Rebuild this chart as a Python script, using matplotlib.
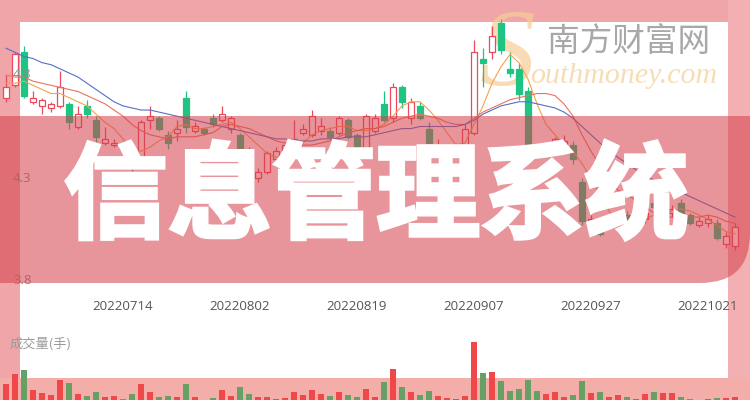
import matplotlib
matplotlib.use("Agg")
import matplotlib.pyplot as plt
import matplotlib.patheffects as pe
from matplotlib.patches import Rectangle, PathPatch
from matplotlib.path import Path
import numpy as np

# daily candles (open, high, low, close)
opens = [4.69, 4.75, 4.91, 4.67, 4.65, 4.64, 4.65, 4.66, 4.55, 4.65,
         4.58, 4.47, 4.46, 4.47, 4.32, 4.40, 4.58, 4.59, 4.51, 4.52,
         4.69, 4.53, 4.54, 4.59, 4.58, 4.54, 4.51, 4.43, 4.30, 4.33,
         4.39, 4.43, 4.44, 4.52, 4.51, 4.53, 4.53, 4.52, 4.58, 4.51,
         4.43, 4.53, 4.66, 4.59, 4.74, 4.59, 4.65, 4.54, 4.44, 4.42,
         4.44, 4.45, 4.52, 4.88, 4.91, 5.05, 4.83, 4.83, 4.72, 4.44,
         4.43, 4.44, 4.45, 4.46, 4.28, 4.07, 4.06, 4.08, 4.08, 4.12,
         4.09, 4.10, 4.18, 4.12, 4.13, 4.18, 4.12, 4.07, 4.08, 4.08,
         3.98, 3.97]
highs = [4.80, 4.91, 4.94, 4.72, 4.69, 4.67, 4.82, 4.67, 4.65, 4.68,
         4.60, 4.55, 4.49, 4.48, 4.35, 4.58, 4.65, 4.60, 4.53, 4.58,
         4.72, 4.57, 4.55, 4.61, 4.65, 4.60, 4.52, 4.45, 4.35, 4.43,
         4.45, 4.47, 4.58, 4.56, 4.63, 4.59, 4.55, 4.60, 4.59, 4.52,
         4.61, 4.61, 4.72, 4.76, 4.75, 4.69, 4.67, 4.57, 4.49, 4.45,
         4.47, 4.56, 4.97, 4.93, 5.04, 5.07, 4.91, 4.86, 4.74, 4.46,
         4.47, 4.50, 4.51, 4.48, 4.30, 4.12, 4.08, 4.11, 4.12, 4.14,
         4.15, 4.15, 4.20, 4.17, 4.17, 4.20, 4.13, 4.11, 4.12, 4.10,
         4.04, 4.08]
lows = [4.67, 4.74, 4.69, 4.66, 4.61, 4.62, 4.64, 4.54, 4.54, 4.59,
        4.47, 4.46, 4.45, 4.43, 4.29, 4.39, 4.54, 4.53, 4.44, 4.48,
        4.52, 4.52, 4.51, 4.55, 4.57, 4.52, 4.41, 4.35, 4.28, 4.32,
        4.38, 4.42, 4.43, 4.51, 4.50, 4.51, 4.49, 4.51, 4.49, 4.43,
        4.42, 4.52, 4.57, 4.57, 4.64, 4.56, 4.58, 4.45, 4.43, 4.41,
        4.43, 4.43, 4.51, 4.74, 4.88, 4.90, 4.79, 4.68, 4.43, 4.41,
        4.42, 4.43, 4.44, 4.37, 4.07, 4.06, 4.02, 4.06, 4.07, 4.08,
        4.08, 4.08, 4.14, 4.11, 4.11, 4.12, 4.07, 4.06, 4.06, 4.00,
        3.96, 3.95]
closes = [4.74, 4.90, 4.70, 4.69, 4.68, 4.66, 4.74, 4.57, 4.61, 4.61,
          4.50, 4.49, 4.47, 4.44, 4.30, 4.57, 4.60, 4.54, 4.47, 4.54,
          4.55, 4.55, 4.52, 4.56, 4.61, 4.59, 4.42, 4.36, 4.33, 4.42,
          4.43, 4.46, 4.49, 4.54, 4.60, 4.55, 4.50, 4.59, 4.50, 4.45,
          4.60, 4.59, 4.58, 4.74, 4.67, 4.67, 4.59, 4.47, 4.45, 4.44,
          4.46, 4.54, 4.91, 4.86, 4.99, 4.92, 4.81, 4.71, 4.45, 4.43,
          4.45, 4.49, 4.48, 4.39, 4.09, 4.10, 4.03, 4.10, 4.10, 4.09,
          4.13, 4.13, 4.16, 4.15, 4.15, 4.13, 4.08, 4.09, 4.10, 4.01,
          4.02, 4.06]

# moving averages as drawn (5, 10, 20 day)
ma5 = [4.76, 4.76, 4.77, 4.75, 4.73, 4.71, 4.71, 4.69, 4.67, 4.65,
       4.61, 4.57, 4.54, 4.49, 4.44, 4.43, 4.45, 4.48, 4.50, 4.55,
       4.56, 4.54, 4.54, 4.55, 4.56, 4.57, 4.54, 4.50, 4.46, 4.42,
       4.40, 4.41, 4.43, 4.47, 4.51, 4.53, 4.54, 4.55, 4.55, 4.53,
       4.53, 4.54, 4.56, 4.60, 4.65, 4.67, 4.67, 4.63, 4.58, 4.52,
       4.46, 4.47, 4.56, 4.65, 4.76, 4.84, 4.90, 4.86, 4.78, 4.66,
       4.56, 4.51, 4.46, 4.43, 4.37, 4.30, 4.22, 4.14, 4.08, 4.08,
       4.09, 4.10, 4.12, 4.13, 4.14, 4.15, 4.14, 4.12, 4.10, 4.07,
       4.04, 4.03]
ma10 = [4.80, 4.79, 4.79, 4.77, 4.76, 4.75, 4.74, 4.73, 4.72, 4.70,
        4.68, 4.66, 4.63, 4.60, 4.56, 4.53, 4.51, 4.50, 4.49, 4.50,
        4.50, 4.50, 4.51, 4.52, 4.55, 4.56, 4.55, 4.54, 4.52, 4.50,
        4.48, 4.47, 4.46, 4.46, 4.46, 4.47, 4.48, 4.50, 4.52, 4.53,
        4.54, 4.54, 4.55, 4.57, 4.59, 4.60, 4.61, 4.60, 4.59, 4.57,
        4.56, 4.56, 4.59, 4.62, 4.64, 4.66, 4.68, 4.69, 4.70, 4.71,
        4.71, 4.70, 4.66, 4.60, 4.51, 4.43, 4.36, 4.29, 4.24, 4.22,
        4.19, 4.16, 4.13, 4.11, 4.11, 4.11, 4.11, 4.11, 4.12, 4.11,
        4.09, 4.08]
ma20 = [4.93, 4.91, 4.89, 4.88, 4.86, 4.85, 4.83, 4.81, 4.79, 4.76,
        4.73, 4.70, 4.67, 4.65, 4.64, 4.63, 4.63, 4.62, 4.61, 4.60,
        4.59, 4.58, 4.57, 4.56, 4.55, 4.54, 4.53, 4.52, 4.51, 4.50,
        4.49, 4.49, 4.48, 4.48, 4.48, 4.49, 4.49, 4.49, 4.50, 4.50,
        4.50, 4.51, 4.52, 4.53, 4.54, 4.54, 4.55, 4.55, 4.55, 4.55,
        4.55, 4.56, 4.58, 4.61, 4.63, 4.65, 4.66, 4.67, 4.67, 4.66,
        4.65, 4.64, 4.62, 4.59, 4.55, 4.51, 4.47, 4.43, 4.40, 4.37,
        4.34, 4.31, 4.29, 4.27, 4.25, 4.23, 4.21, 4.19, 4.17, 4.15,
        4.13, 4.11]

# volume in 手
volume = [44000, 59000, 65000, 35000, 30500, 27500, 50000, 45500, 29000, 26000,
          32000, 24500, 26000, 21500, 29000, 44000, 32000, 24500, 26000, 24500,
          44000, 24500, 20500, 23000, 35000, 26000, 39500, 29000, 24500, 24500,
          21500, 23000, 32000, 27500, 35000, 29000, 26000, 32000, 27500, 24500,
          36500, 24500, 47000, 66500, 39500, 32000, 27500, 33500, 26000, 23000,
          21500, 26000, 107000, 60500, 62000, 48500, 33500, 36500, 50000, 33500,
          29000, 32000, 24500, 27500, 48500, 30500, 32000, 24500, 27500, 24500,
          21500, 29000, 32000, 30500, 30500, 24500, 21500, 20500, 21500, 23000,
          23000, 24500]

date_ticks = [13, 26, 39, 52, 65, 78]
date_labels = ["20220714", "20220802", "20220819", "20220907", "20220927", "20221021"]
price_ticks = [4.8, 4.3, 3.8]

title = "信息管理系统"

RED = "#ec4a5c"
GREEN = "#1fc382"
PINK = "#f0a6a9"

n = len(opens)
idx = np.arange(n)
up = [c >= o for o, c in zip(opens, closes)]

fig = plt.figure(figsize=(7.5, 4), dpi=100)
fig.patch.set_facecolor(PINK)

W, H = 750.0, 400.0
def fx(px):
    return px / W
def fy(py):
    return 1 - py / H

# white panel
fig.add_artist(Rectangle((fx(20), fy(378)), fx(708), 356 / H, transform=fig.transFigure,
                         facecolor="white", edgecolor="none", zorder=-5))
# right strip a bit lighter
fig.add_artist(Rectangle((fx(728), 0), fx(22), 1, transform=fig.transFigure,
                         facecolor="#f2b0b2", edgecolor="none", zorder=-6))

# price panel (whole figure)
ax = fig.add_axes([0, 0, 1, 1], zorder=1)
ax.set_facecolor("none")
ax.set_xlim(-6 / 9, (750 - 6) / 9)
ax.set_ylim(3.8 - 119 / 206, 3.8 + 281 / 206)
ax.axis("off")

# watermark (under the candles)
ax.text(fx(508), fy(58), "S", transform=fig.transFigure, fontsize=80, style="italic",
        family="Liberation Serif", color="#f7cd98", alpha=0.7, ha="center", va="center", zorder=0)
ax.text(fx(530), fy(76), "outhmoney.com", transform=fig.transFigure, fontsize=21.5, style="italic",
        family="Liberation Serif", color="#f7dcb4", ha="left", va="center", zorder=0)
ax.text(fx(547), fy(43), "南方财富网", transform=fig.transFigure, fontsize=23.5,
        family=["Noto Sans CJK SC", "DejaVu Sans"], fontweight="light", color="#a8a8a8",
        ha="left", va="center", zorder=0)

# wicks and bodies
colors = [RED if u else GREEN for u in up]
ax.vlines(idx, lows, highs, colors=colors, linewidth=0.9, zorder=2)
bottoms = [min(o, c) for o, c in zip(opens, closes)]
heights = [max(abs(c - o), 0.006) for o, c in zip(opens, closes)]
faces = ["white" if u else GREEN for u in up]
ax.bar(idx, heights, bottom=bottoms, width=0.62, color=faces, edgecolor=colors,
       linewidth=0.9, zorder=3)

ax.plot(idx, ma5, color="#f4a24e", linewidth=0.8, zorder=4)
ax.plot(idx, ma10, color="#e9735f", linewidth=0.8, zorder=4)
ax.plot(idx, ma20, color="#5470c6", linewidth=0.8, zorder=4)

for p in price_ticks:
    ax.text(fx(13), p, f"{p}", transform=ax.get_yaxis_transform(), fontsize=9.5,
            family="Open Sans", color="#8a8a8a", ha="left", va="center", zorder=5)

for i, lab in zip(date_ticks, date_labels):
    ax.text(i, fy(307), lab, transform=ax.get_xaxis_transform(), fontsize=9.5,
            family="Open Sans", color="#555555", ha="center", va="center", zorder=5)

ax.text(fx(10), fy(344), "成交量(手)", transform=fig.transFigure, fontsize=9.5,
        family=["Noto Sans CJK SC", "DejaVu Sans"], color="#9a9a9a",
        ha="left", va="center", zorder=5)

# red translucent band with rounded lower right end
r = 50
verts = [(0, 116), (750, 116), (750, 283 - r), (750, 283), (750 - r, 283), (0, 283), (0, 116)]
codes = [Path.MOVETO, Path.LINETO, Path.LINETO, Path.CURVE3, Path.CURVE3, Path.LINETO, Path.CLOSEPOLY]
band = Path([(fx(x), fy(y)) for x, y in verts], codes)
fig.add_artist(PathPatch(band, transform=fig.transFigure, facecolor="#d43f4a",
                         edgecolor="none", alpha=0.55, zorder=2))

fig.text(fx(376), fy(199), title, fontsize=75, color="white", fontweight="black",
         family=["Noto Sans CJK SC", "DejaVu Sans"], ha="center", va="center", zorder=3,
         path_effects=[pe.withStroke(linewidth=2.5, foreground="white", joinstyle="miter"),
                       pe.Normal()])

# bottom pink strip
fig.add_artist(Rectangle((0, 0), 1, 22 / H, transform=fig.transFigure,
                         facecolor="#f4aea9", edgecolor="none", zorder=3.5))

# volume panel
vax = fig.add_axes([0, 0, 1, 60 / H], zorder=4)
vax.set_facecolor("none")
vax.set_xlim(-6 / 9, (750 - 6) / 9)
vax.set_ylim(20000, 110000)
vax.axis("off")
vcolors = ["#f04848" if u else "#67a064" for u in up]
vax.bar(idx, volume, width=0.62, color=vcolors)

fig.savefig("out.png", dpi=100, facecolor=fig.get_facecolor())
